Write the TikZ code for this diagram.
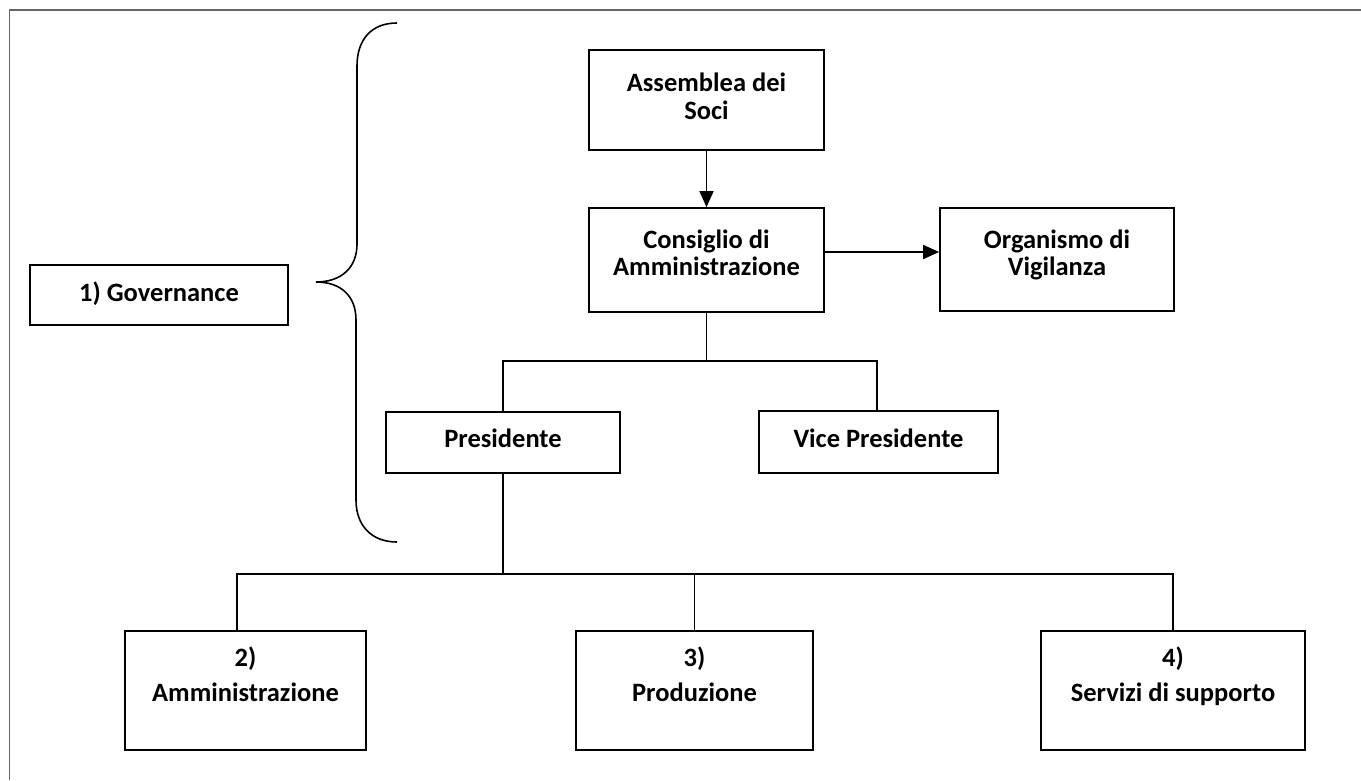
\documentclass[tikz,border=0pt]{standalone}
\usepackage{fontspec}
\setmainfont{Carlito}
\usetikzlibrary{arrows.meta}
\newcommand\mlines[1]{\begin{tabular}[b]{@{}c@{}}#1\end{tabular}}
\begin{document}
\begin{tikzpicture}[x=1pt,y=-1pt,
  box/.style={draw, line width=1.7pt, inner sep=0pt},
  lbl/.style={anchor=base, inner sep=0pt, font=\fontsize{26.5}{27}\selectfont\bfseries},
  link/.style={line width=1.6pt},
  arr/.style={link, -{Triangle[length=16pt,width=14pt]}},
  frameline/.style={draw=black!60, line width=1.2pt},
  bracepath/.style={line width=1.6pt}
]
\useasboundingbox (0,0) rectangle (1361,780);
% outer frame (top and left edges visible)
\draw[frameline] (9.5,780) -- (9.5,10) -- (1361,10);

% boxes
\node[box, minimum width=258pt, minimum height=60pt] (gov) at (159,295) {};
\node[box, minimum width=235pt, minimum height=100pt] (asm) at (706.5,100) {};
\node[box, minimum width=235pt, minimum height=104pt] (cda) at (706.5,260) {};
\node[box, minimum width=234pt, minimum height=103pt] (odv) at (1057,259.5) {};
\node[box, minimum width=234pt, minimum height=61pt] (pres) at (503,442.5) {};
\node[box, minimum width=239pt, minimum height=62pt] (vp) at (878.5,442) {};
\node[box, minimum width=241pt, minimum height=119pt] (amm) at (245.5,690.5) {};
\node[box, minimum width=237pt, minimum height=119pt] (prod) at (694.5,690.5) {};
\node[box, minimum width=264pt, minimum height=119pt] (serv) at (1173,690.5) {};

% texts
\node[lbl] (govt) at (159,301) {1) Governance};
\node[lbl] (asmt) at (706.5,119) {\mlines{Assemblea dei\\[1pt]Soci}};
\node[lbl] (cdat) at (706.5,275) {\mlines{Consiglio di\\Amministrazione}};
\node[lbl] (odvt) at (1057,275) {\mlines{Organismo di\\Vigilanza}};
\node[lbl] (prest) at (503,447) {Presidente};
\node[lbl] (vpt) at (878.5,447) {Vice Presidente};
\node[lbl] (ammt) at (245.5,701) {\mlines{2)\\[8pt]Amministrazione}};
\node[lbl] (prodt) at (694.5,701) {\mlines{3)\\[8pt]Produzione}};
\node[lbl] (servt) at (1173,701) {\mlines{4)\\[8pt]Servizi di supporto}};

% connectors
\draw[arr] (asm.south) -- (cda.north);
\draw[arr] ([yshift=8pt]cda.east) -- ([yshift=8pt]cda.east -| odv.west);
\draw[link] (cda.south) -- ++(0,48) coordinate (j1);
\draw[link] (j1) -| (pres.north);
\draw[link] (j1) -| ([xshift=-1.5pt]vp.north);
\draw[link] (pres.south) -- ++(0,100) coordinate (j2);
\draw[link] (j2) -| ([xshift=-8.5pt]amm.north);
\draw[link] (j2) -| (prod.north);
\draw[link] (j2) -| (serv.north);

% brace
\draw[bracepath] (397,23) .. controls (371,23) and (357,40) .. (357,66)
  -- (357,244) .. controls (357,268) and (341,282) .. (316,282)
  .. controls (341,282) and (356,296) .. (356,320)
  -- (356,500) .. controls (356,525) and (371,542) .. (397,542);
\end{tikzpicture}
\end{document}
